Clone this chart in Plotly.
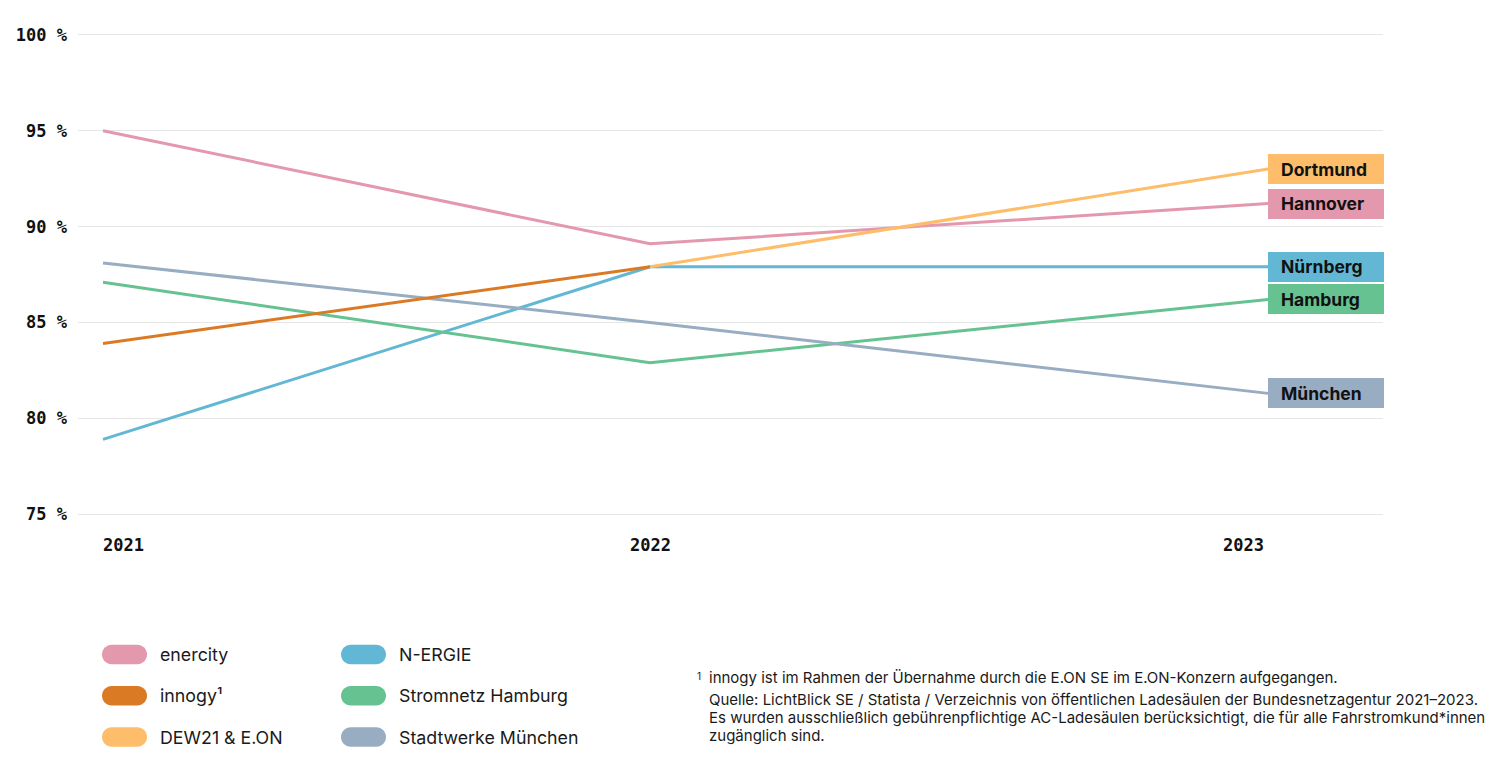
import plotly.graph_objects as go

# ---------------- data ----------------
year_labels = ["2021", "2022", "2023"]
x_points = [2021.0, 2022.0, 2023.13]          # positions of the three survey points on the linear axis
series_names = ["enercity", "innogy¹", "DEW21 & E.ON", "N-ERGIE", "Stromnetz Hamburg", "Stadtwerke München"]
enercity = [95.0, 89.1, 91.2]
innogy = [83.9, 87.9, None]
dew21_eon = [None, 87.9, 93.0]
n_ergie = [78.9, 87.9, 87.9]
stromnetz_hamburg = [87.1, 82.9, 86.2]
stadtwerke_muenchen = [88.1, 85.0, 81.3]
end_labels = ["Hannover", None, "Dortmund", "Nürnberg", "Hamburg", "München"]
y_tick_values = [75, 80, 85, 90, 95, 100]
y_tick_labels = ["75 %", "80 %", "85 %", "90 %", "95 %", "100 %"]
footnote_lines = [
    "innogy ist im Rahmen der Übernahme durch die E.ON SE im E.ON-Konzern aufgegangen.",
    "Quelle: LichtBlick SE / Statista / Verzeichnis von öffentlichen Ladesäulen der Bundesnetzagentur 2021–2023.",
    "Es wurden ausschließlich gebührenpflichtige AC-Ladesäulen berücksichtigt, die für alle Fahrstromkund*innen",
    "zugänglich sind.",
]

series_values = [enercity, innogy, dew21_eon, n_ergie, stromnetz_hamburg, stadtwerke_muenchen]
colors = ["#E398AD", "#DB7A25", "#FDBD6A", "#62B8D4", "#66C291", "#98ACC2"]

# ---------------- layout geometry ----------------
W, H = 1494, 760
ML, MR, MT, MB = 78, 111, 31, 242
PW, PH = W - ML - MR, H - MT - MB
X_RANGE = [2020.9543, 2023.340]
Y_RANGE = [74.8, 100.2]


def px_to_paper_x(px):
    return (px - ML) / PW


def px_to_paper_y(py):
    return (H - MB - py) / PH


MONO = "DejaVu Sans Mono"
SANS = "Inter"

fig = go.Figure()
draw_order = [0, 3, 4, 5, 1, 2]
for i in draw_order:
    fig.add_trace(go.Scatter(
        x=x_points, y=series_values[i], mode="lines", name=series_names[i],
        line=dict(color=colors[i], width=3), connectgaps=False, showlegend=False,
        hoverinfo="skip"))

annotations = []
shapes = []

# end-of-line labels
for i, lab in enumerate(end_labels):
    if lab is None:
        continue
    yv = [v for v in series_values[i] if v is not None][-1]
    xv = x_points[len(series_values[i]) - 1]
    annotations.append(dict(x=xv, y=yv, xref="x", yref="y", xanchor="left", yanchor="middle",
                            text=" ", width=116, height=30, bgcolor=colors[i], borderwidth=0,
                            borderpad=0, showarrow=False, font=dict(size=12)))
    annotations.append(dict(x=xv, y=yv, xref="x", yref="y", xanchor="left", yanchor="middle",
                            xshift=11, text="<b>%s</b>" % lab, showarrow=False,
                            font=dict(family=SANS, size=17.5, color="#111111")))

# year labels under the axis
year_anchor = ["left", "center", "right"]
year_shift = [-2, 0, -2]
for k, lab in enumerate(year_labels):
    annotations.append(dict(x=x_points[k], y=px_to_paper_y(545), xref="x", yref="paper",
                            xanchor=year_anchor[k], yanchor="middle", xshift=year_shift[k],
                            text="<b>%s</b>" % lab, showarrow=False,
                            font=dict(family=MONO, size=17, color="#111111")))

# custom legend with pill swatches
legend_cols_px = [102, 341]
legend_rows_px = [654.5, 695.8, 737]
pill_w, pill_h = 45, 19.5
kappa = 0.5523
for i, name in enumerate(series_names):
    col, row = divmod(i, 3)
    x0 = legend_cols_px[col]
    x1 = x0 + pill_w
    yc = legend_rows_px[row]
    r = pill_h / 2
    y0, y1 = yc - r, yc + r
    P = lambda a, b: "%.6f,%.6f" % (px_to_paper_x(a), px_to_paper_y(b))
    c = kappa * r
    path = ("M " + P(x0 + r, y0) + " L " + P(x1 - r, y0) +
            " C " + P(x1 - r + c, y0) + " " + P(x1, yc - c) + " " + P(x1, yc) +
            " C " + P(x1, yc + c) + " " + P(x1 - r + c, y1) + " " + P(x1 - r, y1) +
            " L " + P(x0 + r, y1) +
            " C " + P(x0 + r - c, y1) + " " + P(x0, yc + c) + " " + P(x0, yc) +
            " C " + P(x0, yc - c) + " " + P(x0 + r - c, y0) + " " + P(x0 + r, y0) + " Z")
    shapes.append(dict(type="path", path=path, xref="paper", yref="paper",
                       fillcolor=colors[i], line=dict(width=0), layer="above"))
    annotations.append(dict(x=px_to_paper_x(x1 + 11), y=px_to_paper_y(yc), xref="paper", yref="paper",
                            xanchor="left", yanchor="middle", text=name, showarrow=False,
                            font=dict(family=SANS, size=17.8, color="#1a1a1a")))

# footnotes
annotations.append(dict(x=px_to_paper_x(695), y=px_to_paper_y(668), xref="paper", yref="paper",
                        xanchor="left", yanchor="top", text="1", showarrow=False,
                        font=dict(family=SANS, size=10, color="#1a1a1a")))
footnote_centers_px = [677, 700, 718, 736]
for line, yc in zip(footnote_lines, footnote_centers_px):
    annotations.append(dict(x=px_to_paper_x(707), y=px_to_paper_y(yc), xref="paper", yref="paper",
                            xanchor="left", yanchor="middle", text=line, showarrow=False, align="left",
                            font=dict(family=SANS, size=15, color="#1a1a1a")))

fig.update_layout(
    width=W, height=H,
    margin=dict(l=ML, r=MR, t=MT, b=MB, pad=0),
    paper_bgcolor="white", plot_bgcolor="white",
    showlegend=False,
    xaxis=dict(range=X_RANGE, showgrid=False, zeroline=False, showticklabels=False,
               showline=False, fixedrange=True),
    yaxis=dict(range=Y_RANGE, tickmode="array", tickvals=y_tick_values, ticktext=y_tick_labels,
               showgrid=True, gridcolor="#e6e6e6", gridwidth=1, zeroline=False, showline=False,
               ticks="", ticklabelstandoff=10,
               tickfont=dict(family=MONO, size=17, color="#111111", weight="bold"),
               fixedrange=True),
    annotations=annotations,
    shapes=shapes,
)

fig.write_html("out.html")
